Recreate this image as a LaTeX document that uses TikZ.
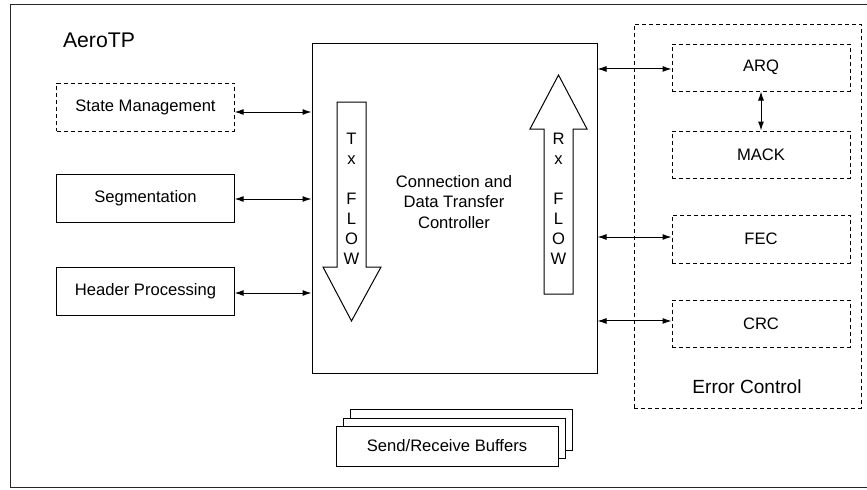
\documentclass[tikz,border=0pt]{standalone}
\usepackage{fontspec}
\setmainfont{Liberation Sans}
\usetikzlibrary{arrows.meta,calc}
\begin{document}
\begin{tikzpicture}[x=0.75pt,y=-0.75pt,
  txt/.style={font=\fontsize{12.45pt}{15.4pt}\selectfont},
  box/.style={draw, line width=0.75pt, minimum width=133pt, minimum height=36pt, inner sep=0pt, fill=white, txt},
  dbox/.style={box, dash pattern=on 3pt off 2.25pt},
  biarrow/.style={{Latex[length=6.75pt,width=4.5pt]}-{Latex[length=6.75pt,width=4.5pt]}, line width=0.75pt},
  flowarrow/.style={draw, line width=0.75pt, fill=white}]
\useasboundingbox (0,0) rectangle (867,489);
\fill[white] (0,0) rectangle (867,489);
\draw[line width=0.9pt, black!85] (867,4.5) -- (10.5,4.5) -- (10.5,487.5) -- (867,487.5);

\node[font=\fontsize{15.9pt}{18pt}\selectfont] (title) at (99,40) {AeroTP};

% left boxes
\node[dbox] (sm) at (145.5,107) {State Management};
\node[box] (seg) at (145.5,198) {Segmentation};
\node[box] (hp) at (145.5,291) {Header Processing};

% controller
\node[box, minimum width=213.75pt, minimum height=247.5pt] (ctrl) at (454.5,208) {};
\node[txt, align=center] (ctext) at (454,202) {Connection and\\Data Transfer\\Controller};

% Tx arrow
\draw[flowarrow] (337,102) -- (366,102) -- (366,267) -- (381,267) -- (351.5,321) -- (323,267) -- (337,267) -- cycle;
\node[font=\fontsize{12.45pt}{15pt}\selectfont, align=center] (txl) at (351.5,199) {T\\x\\\mbox{}\\F\\L\\O\\W};
% Rx arrow
\draw[flowarrow] (544,294) -- (573,294) -- (573,129) -- (587,129) -- (558.5,75) -- (530,129) -- (544,129) -- cycle;
\node[font=\fontsize{12.45pt}{15pt}\selectfont, align=center] (rxl) at (558.5,199) {R\\x\\\mbox{}\\F\\L\\O\\W};

% error control
\node[dbox, minimum width=170.25pt, minimum height=288pt] (ec) at (747.5,216) {};
\node[font=\fontsize{14.3pt}{17pt}\selectfont] (ecl) at (747,387) {Error Control};
\node[dbox, minimum width=133.5pt, minimum height=35.25pt] (arq) at (761,67.5) {ARQ};
\node[dbox, minimum width=133.5pt, minimum height=35.25pt] (mack) at (761,154.5) {MACK};
\node[dbox, minimum width=133.5pt, minimum height=36pt] (fec) at (761,239) {FEC};
\node[dbox, minimum width=133.5pt, minimum height=35.25pt] (crc) at (761,323.5) {CRC};

% buffers
\node[box, minimum width=166.5pt, minimum height=30.75pt] (buf3) at (461,429.5) {};
\node[box, minimum width=166.5pt, minimum height=30pt] (buf2) at (454,438) {};
\node[box, minimum width=166.5pt, minimum height=30pt] (buf) at (447,446) {Send/Receive Buffers};

% connectors left
\draw[biarrow] ([yshift=-3.75pt]sm.east) -- ([yshift=-3.75pt]sm.east -| ctrl.west);
\draw[biarrow] ([yshift=-0.75pt]seg.east) -- ([yshift=-0.75pt]seg.east -| ctrl.west);
\draw[biarrow] ([yshift=-1.5pt]hp.east) -- ([yshift=-1.5pt]hp.east -| ctrl.west);
% connectors right
\draw[biarrow] ([yshift=-1.1pt]arq.west -| ctrl.east) -- ([yshift=-1.1pt]arq.west);
\draw[biarrow] ([yshift=1.5pt]fec.west -| ctrl.east) -- ([yshift=1.5pt]fec.west);
\draw[biarrow] ([yshift=1.9pt]crc.west -| ctrl.east) -- ([yshift=1.9pt]crc.west);
\draw[biarrow] (arq.south) -- (mack.north);
\end{tikzpicture}
\end{document}
